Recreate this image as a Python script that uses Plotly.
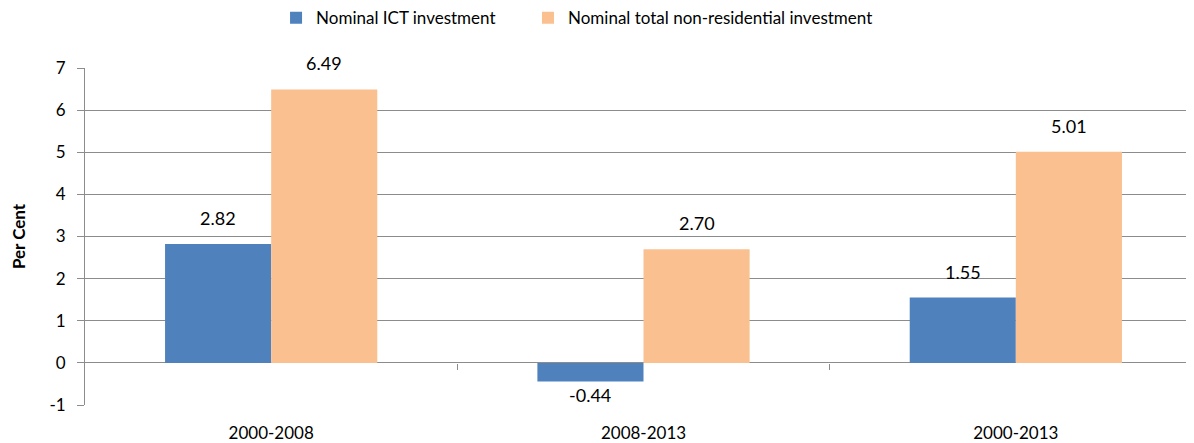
import plotly.graph_objects as go

categories = ["2000-2008", "2008-2013", "2000-2013"]
ict = [2.82, -0.44, 1.55]
total = [6.49, 2.70, 5.01]
ict_labels = ["2.82", "-0.44", "1.55"]
total_labels = ["6.49", "2.70", "5.01"]
y_ticks = [-1, 0, 1, 2, 3, 4, 5, 6, 7]

FONT = "Lato, 'Open Sans', sans-serif"
BARGAP = 0.43
BAR_W = (1 - BARGAP) / 2          # width of one bar in category units
SERIES_OFFSET = [-BAR_W / 2, BAR_W / 2]

fig = go.Figure()
fig.add_trace(go.Bar(x=[0, 1, 2], y=ict, name="Nominal ICT investment", legend="legend",
                     marker=dict(color="#4F81BD", line=dict(width=0))))
fig.add_trace(go.Bar(x=[0, 1, 2], y=total, name="Nominal total non-residential investment",
                     legend="legend2",
                     marker=dict(color="#FAC090", line=dict(width=0))))
# invisible trace to host the boundary ticks on the zero line
fig.add_trace(go.Scatter(x=[0.5], y=[0], xaxis="x2", mode="markers",
                         marker=dict(opacity=0), showlegend=False, hoverinfo="skip"))

# data labels, anchored on each bar's end through the axes
for off, vals, labels in zip(SERIES_OFFSET, [ict, total], [ict_labels, total_labels]):
    for i, (v, t) in enumerate(zip(vals, labels)):
        fig.add_annotation(x=i + off, y=v, xref="x", yref="y", text=t, showarrow=False,
                           yanchor="bottom" if v >= 0 else "top",
                           yshift=13 if v >= 0 else -1,
                           font=dict(size=18, family=FONT, color="#000000"))

legend_common = dict(orientation="h", xanchor="left", xref="container",
                     y=0.977, yanchor="middle", yref="container",
                     font=dict(size=17, family=FONT, color="#000000"),
                     itemsizing="constant", bgcolor="rgba(0,0,0,0)")

fig.update_layout(
    width=1194, height=443,
    margin=dict(l=77, r=0, t=60, b=46),
    paper_bgcolor="white", plot_bgcolor="white",
    barmode="group", bargap=BARGAP, bargroupgap=0,
    font=dict(family=FONT, size=17, color="#000000"),
    legend=dict(x=0.2245, **legend_common),
    legend2=dict(x=0.4355, **legend_common),
    xaxis=dict(range=[-0.5, 2.5], tickvals=[0, 1, 2], ticktext=categories,
               showline=False, showgrid=False, zeroline=False, ticks="",
               tickfont=dict(size=17), automargin=False, ticklabelstandoff=16),
    xaxis2=dict(range=[-0.5, 2.5], overlaying="x", anchor="free", position=0.125,
                side="bottom", tickvals=[0.5, 1.5], ticks="outside", ticklen=6,
                tickcolor="#8C8C8C", showticklabels=False, showline=False,
                showgrid=False, zeroline=False, automargin=False),
    yaxis=dict(range=[-1, 7], tickvals=y_ticks, ticktext=[str(v) for v in y_ticks],
               showgrid=True, gridcolor="#8C8C8C", gridwidth=1,
               zeroline=True, zerolinecolor="#8C8C8C", zerolinewidth=1,
               showline=True, linecolor="#8C8C8C", ticks="outside", ticklen=7,
               tickcolor="#8C8C8C", tickfont=dict(size=17), automargin=False,
               ticklabelstandoff=8,
               title=dict(text="<b>Per Cent</b>", font=dict(size=17), standoff=22)),
)

fig.write_html("out.html")
